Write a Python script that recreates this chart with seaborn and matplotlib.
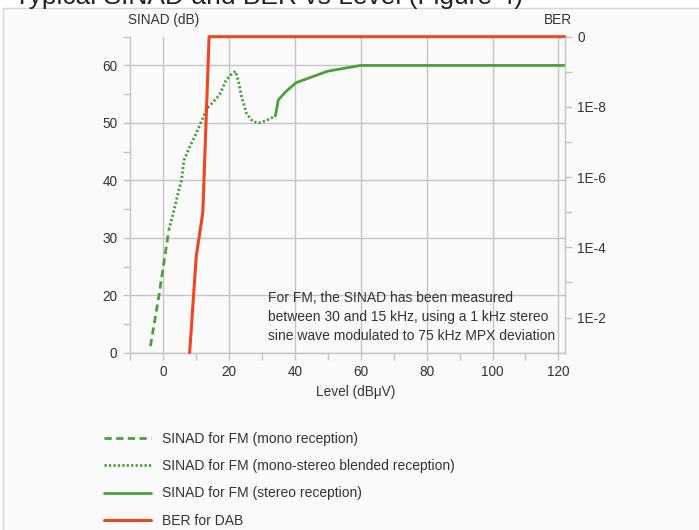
import numpy as np
import pandas as pd
import matplotlib
matplotlib.use('Agg')
import matplotlib.pyplot as plt
from matplotlib.patches import Rectangle
import seaborn as sns

# SINAD curves (dB) vs level (dBuV)
mono_level = [-3.8, -1.2, 1.8]
mono_sinad = [2.3, 20.0, 31.4]

blend_level = [1.8, 3.0, 4.6, 5.6, 6.4, 8.1, 10.1, 11.7, 13.2, 15.2, 17.2, 19.2, 20.7, 22.0,
               23.0, 23.8, 25.3, 27.3, 29.1, 31.3, 34.1]
blend_sinad = [31.4, 34.0, 37.8, 40.0, 43.5, 45.8, 48.2, 50.3, 52.4, 53.6, 54.9, 57.5, 58.4, 59.0,
               57.0, 54.7, 51.7, 50.2, 50.0, 50.4, 51.2]

stereo_level = [34.1, 35.0, 37.4, 40.4, 50.0, 60.0, 122.0]
stereo_sinad = [51.2, 54.0, 55.5, 57.0, 59.0, 60.0, 60.0]

# BER for DAB (top of the right axis is labelled "0", drawn at 1e-10)
dab_level = [8.1, 10.1, 12.1, 14.0, 122.0]
dab_ber = [1e-1, 1.8e-4, 1e-5, 1e-10, 1e-10]

x_ticks = [0, 20, 40, 60, 80, 100, 120]
sinad_ticks = [0, 20, 30, 40, 50, 60]
ber_ticks = [1e-10, 1e-8, 1e-6, 1e-4, 1e-2]
ber_labels = ['0', '1E-8', '1E-6', '1E-4', '1E-2']

green = '#4f9e3d'
red = '#f0461f'
grey = '#c4c4c4'
txt = '#333333'

sns.set_style('white')
plt.rcParams['font.family'] = ['Liberation Sans', 'DejaVu Sans']
plt.rcParams['font.size'] = 9.8
plt.rcParams['text.color'] = txt
plt.rcParams['xtick.color'] = grey
plt.rcParams['ytick.color'] = grey
plt.rcParams['xtick.labelcolor'] = txt
plt.rcParams['ytick.labelcolor'] = txt

W, H = 699, 530
fig = plt.figure(figsize=(W / 100, H / 100), dpi=100)
fig.patch.set_facecolor('white')
fig.add_artist(Rectangle((3 / W, -0.01), 1.0, 1 - 8.3 / H + 0.01, transform=fig.transFigure,
                         facecolor='#fafafa', edgecolor='#d6d6d6', linewidth=1.0, zorder=0))
fig.text(14 / W, 1 - 4.0 / H, 'Typical SINAD and BER vs Level (Figure 4)', fontsize=19,
         va='baseline', ha='left', color='#222222')

left, right, top, bottom = 130 / W, 565 / W, 1 - 36.7 / H, 1 - 352.7 / H
ax = fig.add_axes([left, bottom, right - left, top - bottom])
ax.set_facecolor('none')

lw = 2.0
sns.lineplot(x=mono_level, y=mono_sinad, ax=ax, color=green, lw=lw, legend=False,
             linestyle=(0, (2.6, 1.6)), label='SINAD for FM (mono reception)')
sns.lineplot(x=blend_level, y=blend_sinad, ax=ax, color=green, lw=lw, legend=False,
             linestyle=(0, (0.8, 0.8)), label='SINAD for FM (mono-stereo blended reception)')
sns.lineplot(x=stereo_level, y=stereo_sinad, ax=ax, color=green, lw=lw, legend=False,
             linestyle='-', label='SINAD for FM (stereo reception)')


# left axis: 0..20 squeezed into one grid step
def fwd(y):
    y = np.asarray(y, dtype=float)
    return np.where(y < 20, 10 + y / 2, y)


def inv(u):
    u = np.asarray(u, dtype=float)
    return np.where(u < 20, (u - 10) * 2, u)


ax.set_yscale('function', functions=(fwd, inv))
ax.set_ylim(0, 65)
ax.set_xlim(-10, 122)
ax.set_yticks(sinad_ticks)
ax.set_yticklabels([str(t) for t in sinad_ticks])
ax.set_yticks([10, 25, 35, 45, 55, 65], minor=True)
ax.set_xticks(x_ticks)
ax.set_xticks(np.arange(-10, 121, 10), minor=True)
ax.grid(True, which='major', color=grey, lw=1.0)
ax.set_axisbelow(True)
ax.tick_params(which='both', length=5, width=1, pad=4, direction='out')
ax.tick_params(axis='x', which='both', bottom=True)
ax.tick_params(axis='y', which='both', left=True)
for s in ['left', 'bottom']:
    ax.spines[s].set_color(grey)
    ax.spines[s].set_linewidth(1.0)
ax.spines['top'].set_visible(False)
ax.spines['right'].set_visible(False)
ax.set_xlabel('')
ax.set_ylabel('')

ax2 = ax.twinx()
ax2.set_facecolor('none')
sns.lineplot(x=dab_level, y=dab_ber, ax=ax2, color=red, lw=2.2, legend=False,
             label='BER for DAB', clip_on=False)
ax2.set_yscale('log')
ax2.set_ylim(1e-1, 1e-10)
ax2.set_yticks(ber_ticks)
ax2.set_yticklabels(ber_labels)
ax2.set_yticks([1e-9, 1e-7, 1e-5, 1e-3], minor=True)
ax2.yaxis.set_minor_formatter(plt.NullFormatter())
ax2.tick_params(axis='y', which='both', right=True, length=5, width=1, pad=4, direction='out')
ax2.spines['right'].set_color(grey)
ax2.spines['right'].set_linewidth(1.0)
for s in ['left', 'bottom', 'top']:
    ax2.spines[s].set_visible(False)
ax2.set_ylabel('')
ax2.set_xlabel('')
ax2.set_xlim(-10, 122)

fig.text(128 / W, 1 - 20 / H, 'SINAD (dB)', ha='left', va='center')
fig.text(572 / W, 1 - 20 / H, 'BER', ha='right', va='center')
fig.text(356 / W, 1 - 392 / H, 'Level (dB\u03bcV)', ha='center', va='center')

ax.text((268 - 130) / 435, (352.7 - 291.5) / 316,
        'For FM, the SINAD has been measured\nbetween 30 and 15 kHz, using a 1 kHz stereo\n'
        'sine wave modulated to 75 kHz MPX deviation',
        transform=ax.transAxes, ha='left', va='top', linespacing=1.42, fontsize=10)

handles = ax.get_lines()[:3] + ax2.get_lines()[:1]
labels = [h.get_label() for h in handles]
fig.legend(handles, labels, loc='upper left', bbox_to_anchor=(104 / W, 1 - 432 / H),
           frameon=False, borderpad=0, borderaxespad=0, handlelength=3.4,
           handletextpad=0.8, labelspacing=0.95, fontsize=10)

fig.savefig('out.png', dpi=100, facecolor=fig.get_facecolor())
